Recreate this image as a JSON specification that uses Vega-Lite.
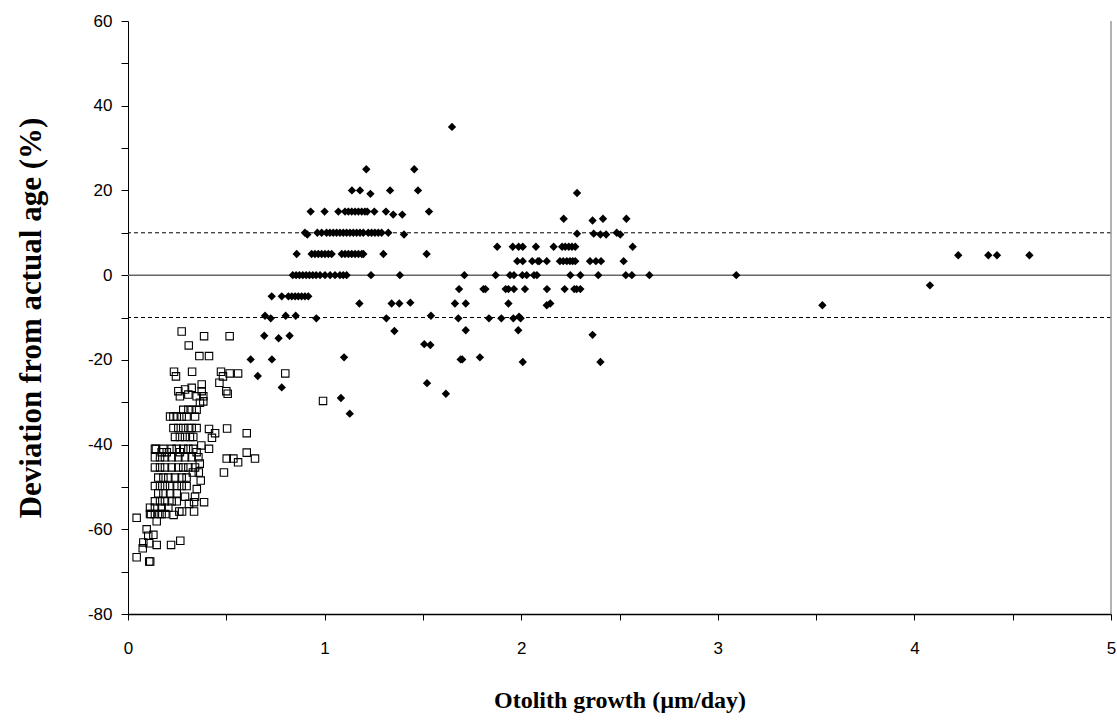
{
"$schema": "https://vega.github.io/schema/vega-lite/v6.json",
"width": 983, "height": 593,
"autosize": {"type": "none"},
"padding": {"left": 128, "top": 21, "right": 6, "bottom": 113},
"background": "white",
"config": {"view": {"stroke": null}, "axis": {"grid": false}},
"datasets": {
"diamonds": [
{"x":1.212,"y":25},{"x":1.456,"y":25},{"x":1.648,"y":35},
{"x":1.139,"y":20},{"x":1.18,"y":20},{"x":1.233,"y":19.2},{"x":1.333,"y":20},{"x":1.475,"y":20},{"x":2.284,"y":19.4},
{"x":0.929,"y":15},{"x":1.0,"y":15},{"x":1.07,"y":15},{"x":1.104,"y":15},{"x":1.121,"y":15},{"x":1.138,"y":15},{"x":1.155,"y":15},{"x":1.172,"y":15},{"x":1.189,"y":15},{"x":1.205,"y":15},{"x":1.217,"y":15},{"x":1.253,"y":15},{"x":1.312,"y":15},{"x":1.349,"y":14.3},{"x":1.395,"y":14.3},{"x":1.531,"y":15},
{"x":2.216,"y":13.3},{"x":2.363,"y":12.9},{"x":2.416,"y":13.3},{"x":2.535,"y":13.3},
{"x":0.9,"y":10},{"x":0.912,"y":9.6},{"x":0.963,"y":10},{"x":0.985,"y":10},{"x":1.01,"y":10},{"x":1.027,"y":10},{"x":1.044,"y":10},{"x":1.061,"y":10},{"x":1.078,"y":10},{"x":1.095,"y":10},{"x":1.112,"y":10},{"x":1.129,"y":10},{"x":1.146,"y":10},{"x":1.163,"y":10},{"x":1.18,"y":10},{"x":1.197,"y":10},{"x":1.222,"y":10},{"x":1.239,"y":10},{"x":1.256,"y":10},{"x":1.273,"y":10},{"x":1.29,"y":10},{"x":1.324,"y":10},{"x":1.404,"y":9.6},{"x":2.284,"y":9.8},{"x":2.369,"y":9.8},{"x":2.403,"y":9.6},{"x":2.432,"y":9.6},{"x":2.486,"y":10},{"x":2.504,"y":9.6},
{"x":1.878,"y":6.7},{"x":1.957,"y":6.7},{"x":1.987,"y":6.7},{"x":2.008,"y":6.7},{"x":2.075,"y":6.7},{"x":2.165,"y":6.7},{"x":2.208,"y":6.7},{"x":2.224,"y":6.7},{"x":2.242,"y":6.7},{"x":2.258,"y":6.7},{"x":2.275,"y":6.7},{"x":2.567,"y":6.7},
{"x":0.858,"y":5},{"x":0.934,"y":5},{"x":0.951,"y":5},{"x":0.968,"y":5},{"x":0.985,"y":5},{"x":1.002,"y":5},{"x":1.019,"y":5},{"x":1.036,"y":5},{"x":1.087,"y":5},{"x":1.104,"y":5},{"x":1.121,"y":5},{"x":1.138,"y":5},{"x":1.155,"y":5},{"x":1.172,"y":5},{"x":1.189,"y":5},{"x":1.197,"y":5},{"x":1.299,"y":5},{"x":1.519,"y":5},{"x":4.223,"y":4.7},{"x":4.376,"y":4.7},{"x":4.42,"y":4.7},{"x":4.585,"y":4.7},
{"x":1.98,"y":3.3},{"x":2.008,"y":3.3},{"x":2.056,"y":3.3},{"x":2.085,"y":3.3},{"x":2.092,"y":3.3},{"x":2.13,"y":3.3},{"x":2.197,"y":3.3},{"x":2.214,"y":3.3},{"x":2.232,"y":3.3},{"x":2.248,"y":3.3},{"x":2.262,"y":3.3},{"x":2.275,"y":3.3},{"x":2.35,"y":3.3},{"x":2.38,"y":3.3},{"x":2.406,"y":3.3},{"x":2.521,"y":3.3},
{"x":0.838,"y":0},{"x":0.855,"y":0},{"x":0.872,"y":0},{"x":0.889,"y":0},{"x":0.906,"y":0},{"x":0.923,"y":0},{"x":0.94,"y":0},{"x":0.957,"y":0},{"x":0.977,"y":0},{"x":1.002,"y":0},{"x":1.028,"y":0},{"x":1.053,"y":0},{"x":1.078,"y":0},{"x":1.095,"y":0},{"x":1.112,"y":0},{"x":1.236,"y":0},{"x":1.383,"y":0},{"x":1.711,"y":0},{"x":1.87,"y":0},{"x":1.943,"y":0},{"x":1.963,"y":0},{"x":2.006,"y":0},{"x":2.028,"y":0},{"x":2.065,"y":0},{"x":2.08,"y":0},{"x":2.25,"y":0},{"x":2.301,"y":0},{"x":2.392,"y":0},{"x":2.532,"y":0},{"x":2.563,"y":0},{"x":2.652,"y":0},{"x":3.094,"y":0},
{"x":4.079,"y":-2.4},
{"x":1.684,"y":-3.3},{"x":1.808,"y":-3.3},{"x":1.818,"y":-3.3},{"x":1.921,"y":-3.3},{"x":1.935,"y":-3.3},{"x":1.963,"y":-3.3},{"x":2.019,"y":-3.3},{"x":2.131,"y":-3.3},{"x":2.221,"y":-3.3},{"x":2.27,"y":-3.3},{"x":2.282,"y":-3.3},{"x":2.301,"y":-3.3},
{"x":0.731,"y":-5},{"x":0.782,"y":-5},{"x":0.816,"y":-5},{"x":0.833,"y":-5},{"x":0.85,"y":-5},{"x":0.866,"y":-5},{"x":0.883,"y":-5},{"x":0.9,"y":-5},{"x":0.917,"y":-5},
{"x":1.177,"y":-6.7},{"x":1.341,"y":-6.7},{"x":1.38,"y":-6.7},{"x":1.436,"y":-6.5},{"x":1.663,"y":-6.7},{"x":1.718,"y":-6.7},{"x":1.935,"y":-6.7},{"x":2.13,"y":-7.1},{"x":2.148,"y":-6.7},{"x":3.532,"y":-7.1},
{"x":0.697,"y":-9.6},{"x":0.726,"y":-10.2},{"x":0.802,"y":-9.6},{"x":0.853,"y":-9.6},{"x":0.958,"y":-10.2},{"x":1.314,"y":-10.2},{"x":1.541,"y":-9.6},{"x":1.68,"y":-10.2},{"x":1.836,"y":-10.2},{"x":1.899,"y":-10.2},{"x":1.96,"y":-10.2},{"x":1.989,"y":-9.8},{"x":1.997,"y":-10.2},
{"x":1.355,"y":-13.2},{"x":1.718,"y":-13},{"x":1.985,"y":-13},{"x":2.363,"y":-14.1},
{"x":0.693,"y":-14.3},{"x":0.766,"y":-14.9},{"x":0.822,"y":-14.3},
{"x":1.507,"y":-16.3},{"x":1.538,"y":-16.5},
{"x":0.624,"y":-19.9},{"x":0.732,"y":-19.9},{"x":1.099,"y":-19.4},{"x":1.692,"y":-19.9},{"x":1.7,"y":-19.9},{"x":1.79,"y":-19.4},{"x":2.008,"y":-20.5},{"x":2.403,"y":-20.5},
{"x":0.66,"y":-23.8},{"x":1.521,"y":-25.5},{"x":0.782,"y":-26.5},{"x":1.617,"y":-28},{"x":1.083,"y":-29},{"x":1.128,"y":-32.7}
],
"squares": [
{"x":0.273,"y":-13.3},{"x":0.387,"y":-14.4},{"x":0.517,"y":-14.4},{"x":0.309,"y":-16.6},{"x":0.363,"y":-19.1},{"x":0.412,"y":-19.1},{"x":0.234,"y":-22.8},{"x":0.244,"y":-23.9},{"x":0.326,"y":-22.8},{"x":0.473,"y":-22.8},{"x":0.483,"y":-23.9},{"x":0.517,"y":-23.2},{"x":0.56,"y":-23.2},{"x":0.8,"y":-23.2},{"x":0.465,"y":-25.4},{"x":0.5,"y":-27.4},{"x":0.507,"y":-28.0},{"x":0.412,"y":-36.3},{"x":0.443,"y":-37.3},{"x":0.427,"y":-38.4},{"x":0.504,"y":-36.2},{"x":0.604,"y":-37.3},{"x":0.142,"y":-41.0},{"x":0.412,"y":-41.0},{"x":0.604,"y":-41.9},{"x":0.992,"y":-29.7},
{"x":0.502,"y":-43.3},{"x":0.536,"y":-43.3},{"x":0.56,"y":-44.2},{"x":0.646,"y":-43.3},{"x":0.488,"y":-46.6},{"x":0.36,"y":-46.6},{"x":0.33,"y":-46.6},{"x":0.29,"y":-52.3},{"x":0.341,"y":-52.3},{"x":0.336,"y":-53.6},{"x":0.387,"y":-53.6},{"x":0.261,"y":-55.8},{"x":0.275,"y":-55.8},{"x":0.336,"y":-55.8},{"x":0.044,"y":-57.3},{"x":0.146,"y":-58.1},{"x":0.112,"y":-56.4},{"x":0.117,"y":-56.4},{"x":0.16,"y":-56.4},{"x":0.19,"y":-56.4},{"x":0.095,"y":-60.0},{"x":0.129,"y":-61.3},{"x":0.103,"y":-61.5},{"x":0.078,"y":-63.1},{"x":0.108,"y":-63.3},{"x":0.146,"y":-63.7},{"x":0.219,"y":-63.7},{"x":0.266,"y":-62.7},{"x":0.075,"y":-64.5},{"x":0.044,"y":-66.6},{"x":0.108,"y":-67.6},{"x":0.113,"y":-67.6},
{"x":0.256,"y":-27.4},{"x":0.29,"y":-27.0},{"x":0.307,"y":-28.2},{"x":0.264,"y":-28.6},{"x":0.349,"y":-28.6},{"x":0.375,"y":-25.8},{"x":0.375,"y":-27.4},{"x":0.383,"y":-28.6},{"x":0.324,"y":-26.6},{"x":0.366,"y":-30.1},{"x":0.383,"y":-29.8},{"x":0.281,"y":-31.8},{"x":0.307,"y":-31.8},{"x":0.324,"y":-31.8},{"x":0.349,"y":-31.8},{"x":0.214,"y":-33.4},{"x":0.231,"y":-33.4},{"x":0.248,"y":-33.4},{"x":0.273,"y":-33.4},{"x":0.298,"y":-33.4},{"x":0.341,"y":-33.4},{"x":0.231,"y":-36.1},{"x":0.256,"y":-36.1},{"x":0.281,"y":-36.1},{"x":0.307,"y":-36.1},{"x":0.324,"y":-36.1},{"x":0.349,"y":-36.1},{"x":0.239,"y":-38.2},{"x":0.264,"y":-38.2},{"x":0.29,"y":-38.2},{"x":0.315,"y":-38.2},{"x":0.332,"y":-38.2},{"x":0.137,"y":-41.0},{"x":0.18,"y":-41.0},{"x":0.222,"y":-41.0},{"x":0.248,"y":-41.0},{"x":0.281,"y":-41.0},{"x":0.307,"y":-41.0},{"x":0.332,"y":-41.0},
{"x":0.171,"y":-41.8},{"x":0.197,"y":-41.8},{"x":0.264,"y":-41.8},{"x":0.349,"y":-41.8},{"x":0.373,"y":-40.2},
{"x":0.137,"y":-43.0},{"x":0.163,"y":-43.0},{"x":0.188,"y":-43.0},{"x":0.222,"y":-43.0},{"x":0.256,"y":-43.0},{"x":0.29,"y":-43.0},{"x":0.324,"y":-43.0},{"x":0.358,"y":-43.0},{"x":0.365,"y":-44.5},
{"x":0.137,"y":-45.4},{"x":0.163,"y":-45.4},{"x":0.188,"y":-45.4},{"x":0.222,"y":-45.4},{"x":0.256,"y":-45.4},{"x":0.281,"y":-45.4},{"x":0.307,"y":-45.4},{"x":0.341,"y":-45.4},
{"x":0.154,"y":-47.8},{"x":0.18,"y":-47.8},{"x":0.205,"y":-47.8},{"x":0.239,"y":-47.8},{"x":0.273,"y":-47.8},{"x":0.298,"y":-47.8},{"x":0.37,"y":-48.5},
{"x":0.137,"y":-49.8},{"x":0.163,"y":-49.8},{"x":0.188,"y":-49.8},{"x":0.214,"y":-49.8},{"x":0.248,"y":-49.8},{"x":0.273,"y":-49.8},{"x":0.298,"y":-49.8},{"x":0.35,"y":-50.5},
{"x":0.154,"y":-51.5},{"x":0.18,"y":-51.5},{"x":0.214,"y":-51.5},{"x":0.248,"y":-51.5},
{"x":0.137,"y":-53.4},{"x":0.163,"y":-53.4},{"x":0.188,"y":-53.4},{"x":0.222,"y":-53.4},{"x":0.248,"y":-53.4},{"x":0.31,"y":-54.0},
{"x":0.112,"y":-54.9},{"x":0.137,"y":-54.9},{"x":0.171,"y":-54.9},{"x":0.205,"y":-54.9},
{"x":0.137,"y":-56.4},{"x":0.171,"y":-56.4},{"x":0.232,"y":-56.6}
]
},
"layer": [
{
"data": {"values": [{}]},
"mark": {"type": "rule", "color": "#666666", "strokeWidth": 1.5},
"encoding": {"y": {"datum": 0, "type": "quantitative", "scale": {"domain": [-80, 60], "nice": false, "zero": false},
"axis": {"title": "Deviation  from  actual  age (%)", "values": [-80,-70,-60,-50,-40,-30,-20,-10,0,10,20,30,40,50,60], "labelExpr": "datum.value % 20 == 0 ? '' + datum.value : ''", "labelOverlap": false, "labelFlush": false, "tickSize": 7, "tickColor": "black", "domainColor": "black", "labelColor": "black", "labelFont": "Liberation Sans", "labelFontSize": 17, "labelPadding": 9, "titleFont": "Liberation Serif", "titleFontSize": 31, "titleFontWeight": "bold", "titleColor": "black", "titleX": -97, "titleY": 296.5, "titleAngle": -90, "titleBaseline": "middle", "titleAlign": "center"}}}
},
{
"data": {"values": [{}]},
"mark": {"type": "rule", "color": "black", "strokeWidth": 1, "strokeDash": [4, 3]},
"encoding": {"y": {"datum": 10, "type": "quantitative"}}
},
{
"data": {"values": [{}]},
"mark": {"type": "rule", "color": "black", "strokeWidth": 1, "strokeDash": [4, 3]},
"encoding": {"y": {"datum": -10, "type": "quantitative"}}
},
{
"data": {"values": [{}]},
"mark": {"type": "rule", "color": "#999999", "strokeWidth": 1.5},
"encoding": {"x": {"datum": 5, "type": "quantitative", "scale": {"domain": [0, 5], "nice": false, "zero": false},
"axis": {"title": "Otolith growth (µm/day)", "values": [0,0.5,1,1.5,2,2.5,3,3.5,4,4.5,5], "labelExpr": "datum.value % 1 == 0 ? '' + datum.value : ''", "labelOverlap": false, "labelFlush": false, "tickSize": 6, "tickColor": "black", "domainColor": "black", "domainWidth": 1.5, "labelColor": "black", "labelFont": "Liberation Sans", "labelFontSize": 17, "labelPadding": 20, "titleFont": "Liberation Serif", "titleFontSize": 24, "titleFontWeight": "bold", "titleColor": "black", "titleX": 491.5, "titleY": 86, "titleBaseline": "middle", "titleAlign": "center"}}}
},
{
"data": {"name": "diamonds"},
"mark": {"type": "point", "shape": "diamond", "filled": true, "color": "black", "size": 70, "opacity": 1},
"encoding": {
"x": {"field": "x", "type": "quantitative"},
"y": {"field": "y", "type": "quantitative"}
}
},
{
"data": {"name": "squares"},
"mark": {"type": "point", "shape": "square", "filled": false, "color": "black", "size": 55, "strokeWidth": 1.1, "opacity": 1},
"encoding": {
"x": {"field": "x", "type": "quantitative"},
"y": {"field": "y", "type": "quantitative"}
}
}
]
}
